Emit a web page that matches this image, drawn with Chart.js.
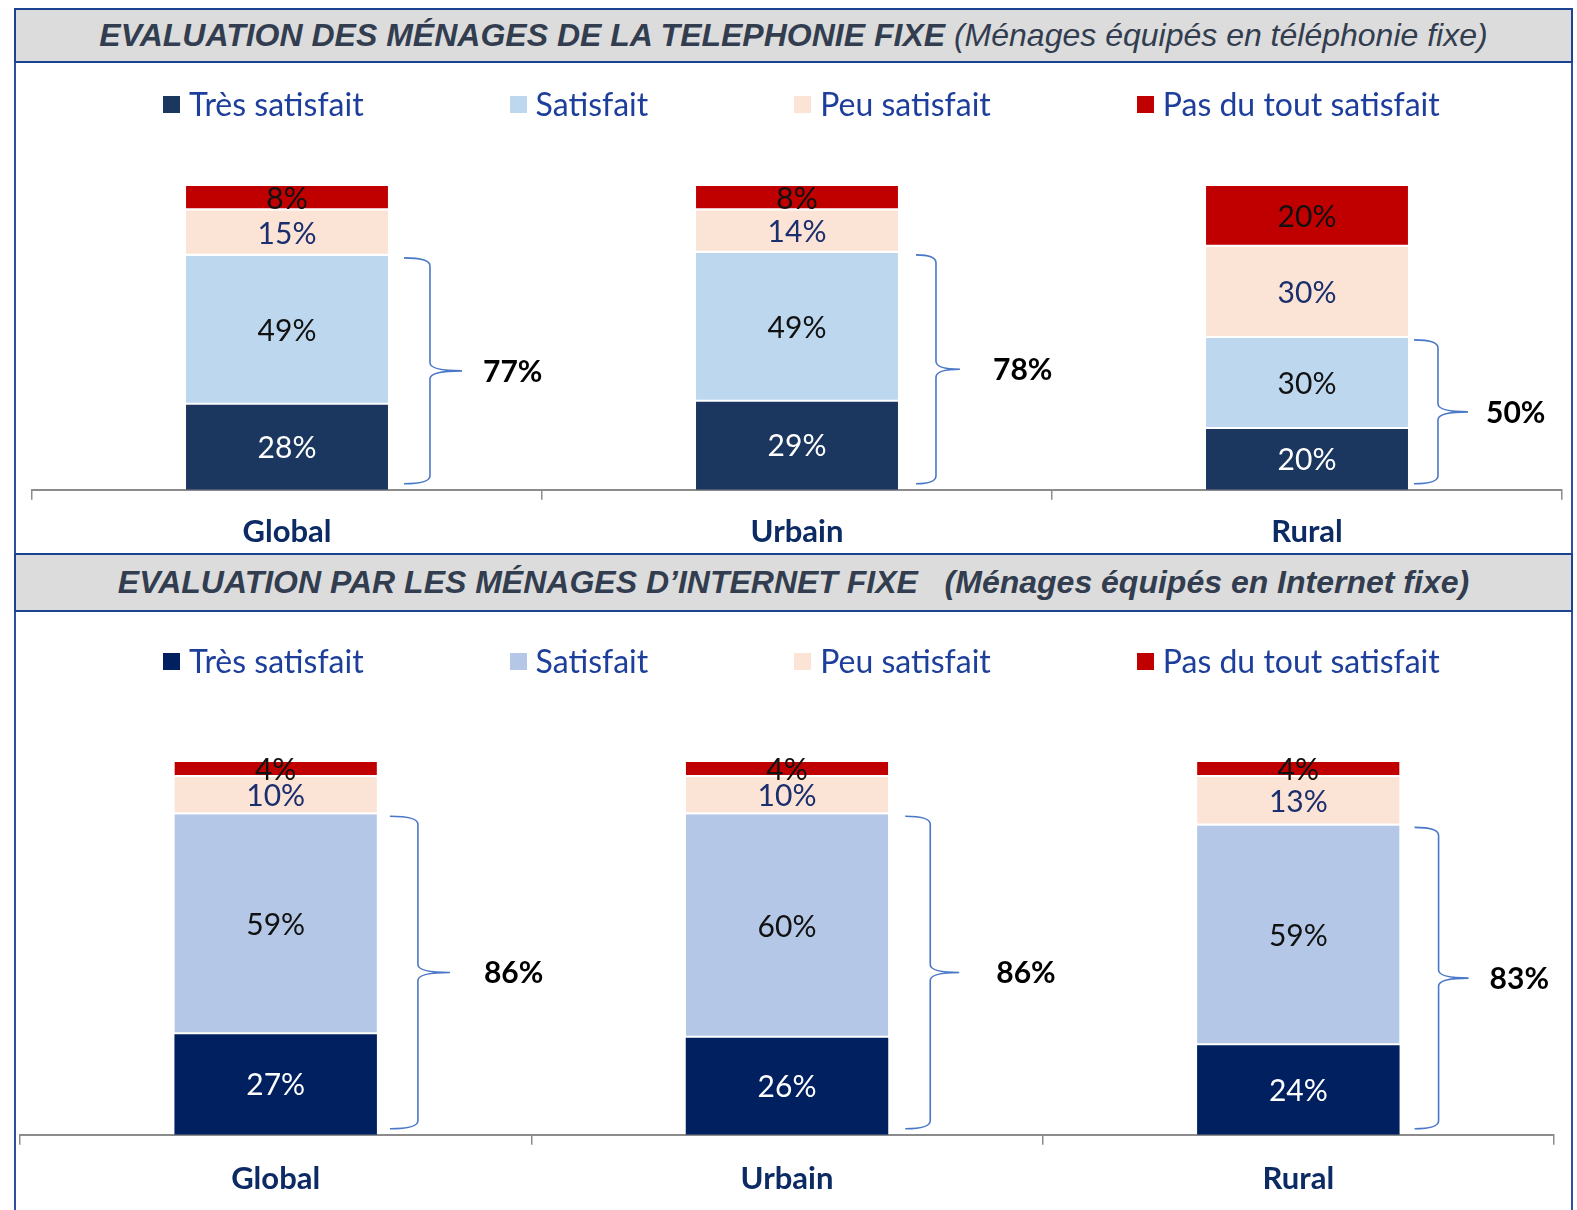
<!DOCTYPE html>
<html>
<head>
<meta charset="utf-8">
<title>Evaluation des ménages</title>
<script src="https://cdn.jsdelivr.net/npm/chart.js@4.4.0/dist/chart.umd.min.js"></script>
<style>
    body { margin: 0; width: 1577px; height: 1210px; position: relative; overflow: hidden; background: #fff; font-family: Lato, sans-serif; }
    .frame { position: absolute; left: 14px; top: 8px; width: 1559px; height: 1202px; box-sizing: border-box; border-left: 2px solid #2d4fa3; border-right: 2px solid #2d4fa3; }
    .banner { position: absolute; left: 14px; width: 1559px; box-sizing: border-box; background: #dcdcdc; border: 2px solid #1c4391;
              text-align: center; font-family: "Liberation Sans", Arial, sans-serif; font-style: italic; font-size: 32px; color: #323d4f; white-space: pre; }
    .banner b { font-weight: bold; }
    .legend { position: absolute; left: 163px; display: flex; gap: 146px; font-size: 32px; color: #1d3f9b; line-height: 40px; }
    .legend span.item { display: flex; align-items: center; }
    .legend i { display: inline-block; width: 17px; height: 17px; margin-right: 9px; }
    canvas { position: absolute; left: 0; }
</style>
</head>
<body>
<div class="frame"></div>

<canvas id="phoneChart" width="1577" height="505" style="top:62px"></canvas>
<canvas id="netChart" width="1577" height="616" style="top:612px"></canvas>

<div class="banner" style="top:8px;height:55px;line-height:51px"><b>EVALUATION DES MÉNAGES DE LA TELEPHONIE FIXE</b> (Ménages équipés en téléphonie fixe)</div>
<div class="legend" id="legend1" style="top:84px"></div>

<div class="banner" style="top:553px;height:59px;line-height:55px"><b>EVALUATION PAR LES MÉNAGES D’INTERNET FIXE   (Ménages équipés en Internet fixe)</b></div>
<div class="legend" id="legend2" style="top:641px"></div>

<script>
// data
const categories = ['Global', 'Urbain', 'Rural'];
const seriesNames = ['Très satisfait', 'Satisfait', 'Peu satisfait', 'Pas du tout satisfait'];

// téléphonie fixe
const phoneTres = [28, 29, 20];
const phoneSatisfait = [49, 49, 30];
const phonePeu = [15, 14, 30];
const phonePas = [8, 8, 20];

// internet fixe
const netTres = [27, 26, 24];
const netSatisfait = [59, 60, 59];
const netPeu = [10, 10, 13];
const netPas = [4, 4, 4];

const phoneColors = ['#1b375f', '#bdd7ee', '#fbe4d6', '#c00000'];
const netColors = ['#002060', '#b4c7e7', '#fbe4d6', '#c00000'];
const labelColors = ['#ffffff', '#111111', '#1b2f6e', '#111111'];

function buildLegend(id, colors) {
    const el = document.getElementById(id);
    seriesNames.forEach((name, i) => {
        const item = document.createElement('span');
        item.className = 'item';
        item.innerHTML = '<i style="background:' + colors[i] + '"></i>' + name;
        el.appendChild(item);
    });
}

// value in the middle of every segment
const segmentLabels = {
    id: 'segmentLabels',
    afterDatasetsDraw(chart) {
        const ctx = chart.ctx;
        ctx.save();
        ctx.font = '30px Lato';
        ctx.textAlign = 'center';
        ctx.textBaseline = 'middle';
        chart.data.datasets.forEach((ds, i) => {
            chart.getDatasetMeta(i).data.forEach((bar, j) => {
                ctx.fillStyle = labelColors[i];
                ctx.fillText(ds.data[j] + '%', bar.x, (bar.y + bar.base) / 2 + 1);
            });
        });
        ctx.restore();
    }
};

// curly brace around the two "satisfied" segments + their total
const bracePlugin = {
    id: 'brace',
    afterDatasetsDraw(chart, args, opts) {
        const ctx = chart.ctx;
        const low = chart.getDatasetMeta(0).data;
        const mid = chart.getDatasetMeta(1).data;
        ctx.save();
        ctx.strokeStyle = '#4a78c8';
        ctx.lineWidth = 1.6;
        low.forEach((bar, j) => {
            const right = bar.x + bar.width / 2;
            const t = mid[j].y + 2, b = bar.base - 6, m = (t + b) / 2;
            const x0 = right + opts.tip[j], xs = right + opts.spine[j], xp = right + opts.point[j];
            ctx.beginPath();
            ctx.moveTo(x0, t);
            ctx.quadraticCurveTo(xs, t, xs, t + 8);
            ctx.lineTo(xs, m - 8);
            ctx.quadraticCurveTo(xs, m, xp, m);
            ctx.moveTo(xp, m);
            ctx.quadraticCurveTo(xs, m, xs, m + 8);
            ctx.lineTo(xs, b - 8);
            ctx.quadraticCurveTo(xs, b, x0, b);
            ctx.stroke();

            const total = chart.data.datasets[0].data[j] + chart.data.datasets[1].data[j];
            ctx.fillStyle = '#000';
            ctx.font = 'bold 30px Lato';
            ctx.textAlign = 'left';
            ctx.textBaseline = 'middle';
            ctx.fillText(total + '%', right + opts.label[j], m + 1);
        });
        ctx.restore();
    }
};

function makeChart(canvasId, series, colors, padding, tickPadding, brace) {
    const datasets = series.map((values, i) => ({
        label: seriesNames[i],
        data: values,
        backgroundColor: colors[i],
        borderColor: '#ffffff',
        borderWidth: i === 0 ? 0 : { bottom: 2, top: 0, left: 0, right: 0 },
        borderSkipped: false,
        barPercentage: 0.396,
        categoryPercentage: 1
    }));
    return new Chart(document.getElementById(canvasId), {
        type: 'bar',
        data: { labels: categories, datasets: datasets },
        options: {
            responsive: false,
            animation: false,
            layout: { padding: padding },
            plugins: {
                legend: { display: false },
                tooltip: { enabled: false },
                brace: brace
            },
            scales: {
                x: {
                    stacked: true,
                    grid: { drawOnChartArea: false, tickLength: 10, color: '#8c8c8c', lineWidth: 1.5 },
                    border: { color: '#8c8c8c', width: 2 },
                    ticks: { color: '#0c2a63', padding: tickPadding, font: { family: 'Lato', size: 31, weight: 'bold' } }
                },
                y: { stacked: true, display: false, min: 0, max: 100 }
            }
        },
        plugins: [segmentLabels, bracePlugin]
    });
}

buildLegend('legend1', phoneColors);
buildLegend('legend2', netColors);

makeChart('phoneChart', [phoneTres, phoneSatisfait, phonePeu, phonePas], phoneColors,
    { left: 32, right: 15, top: 124, bottom: 2 }, 14,
    { tip: [16, 18, 6], spine: [42, 38, 30], point: [74, 62, 60], label: [95, 95, 78] });

makeChart('netChart', [netTres, netSatisfait, netPeu, netPas], netColors,
    { left: 20, right: 23, top: 150, bottom: 14 }, 16,
    { tip: [13, 17, 15], spine: [41, 42, 39], point: [73, 71, 69], label: [107, 108, 90] });
</script>
</body>
</html>
